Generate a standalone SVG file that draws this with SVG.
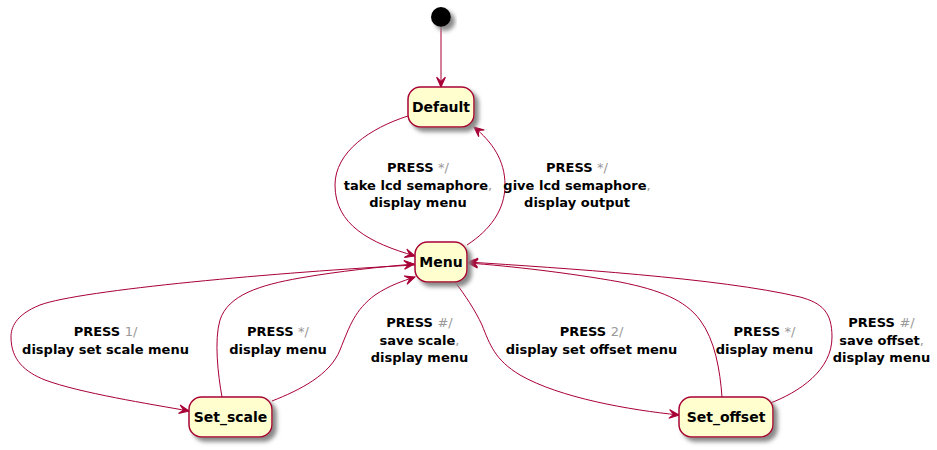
<svg xmlns="http://www.w3.org/2000/svg" width="937" height="450" viewBox="0 0 937 450">
<defs>
<filter id="sh" x="-20%" y="-20%" width="150%" height="160%">
<feGaussianBlur in="SourceAlpha" stdDeviation="2"/>
<feOffset dx="4" dy="4" result="b"/>
<feComponentTransfer><feFuncA type="linear" slope="0.45"/></feComponentTransfer>
<feFlood flood-color="#888"/>
<feComposite in2="b" operator="in"/>
<feMerge><feMergeNode/><feMergeNode in="SourceGraphic"/></feMerge>
</filter>
<marker id="ah" markerUnits="userSpaceOnUse" markerWidth="12" markerHeight="12" viewBox="-10 -5 11 10" refX="0" refY="0" orient="auto">
<path d="M0,0 L-9,-4 L-5,0 L-9,4 Z" fill="#A80036" stroke="#A80036" stroke-width="1" stroke-linejoin="miter"/>
</marker>
</defs>
<style>
.st{fill:#FEFECE;stroke:#A80036;stroke-width:1.5}
.nt{font-family:"DejaVu Sans",sans-serif;font-size:14px;font-weight:bold;fill:#000;text-anchor:middle}
.lb{font-family:"DejaVu Sans",sans-serif;font-size:13px;font-weight:bold;fill:#000;text-anchor:middle}
.g{fill:#999;font-weight:normal}
.e{fill:none;stroke:#A80036;stroke-width:1;marker-end:url(#ah)}
.n{fill:none;stroke:#A80036;stroke-width:1}
</style>
<rect width="937" height="450" fill="#fff"/>
<g id="connectors">
<path class="e" d="M441,27 L441,87"/>
<path class="e" d="M408,116 C370,128 335,152 335,185 C335,225 370,243 415,256"/>
<path class="e" d="M467,245 C490,230 505,210 505,185 C505,160 492,142 474,127"/>
<path class="e" d="M415,265 C280,272 80,290 40,305 C15,315 11,328 11,337 C11,360 25,372 45,380 C80,393 150,404 189,411"/>
<path class="e" d="M222,397 C218,375 214,340 220,320 C228,295 260,285 300,278 C340,271 380,267 414,264"/>
<path class="e" d="M272,401 C300,390 330,375 340,350 C350,325 355,310 375,295 C390,285 403,281 415,277"/>
<path class="e" d="M455,282 C465,295 475,310 482,325 C490,345 495,360 520,375 C560,398 630,410 679,415"/>
<path class="e" d="M722,397 C720,370 715,340 700,320 C685,300 660,290 620,282 C570,273 510,266 468,263"/>
<path class="e" d="M768,404 C800,392 832,370 832,337 C832,312 822,303 800,297 C720,278 560,268 468,262"/>
</g>
<g id="initial"><circle cx="441" cy="17" r="10" fill="#000" filter="url(#sh)"/></g>
<g id="Default"><rect class="st" x="408" y="87" width="66" height="40" rx="12.5" filter="url(#sh)"/><text class="nt" x="441" y="112">Default</text></g>
<g id="Menu"><rect class="st" x="415" y="242" width="52" height="40" rx="12.5" filter="url(#sh)"/><text class="nt" x="441" y="267">Menu</text></g>
<g id="Set_scale"><rect class="st" x="189" y="397" width="83" height="40" rx="12.5" filter="url(#sh)"/><text class="nt" x="230.5" y="422">Set_scale</text></g>
<g id="Set_offset"><rect class="st" x="679" y="397" width="94" height="40" rx="12.5" filter="url(#sh)"/><text class="nt" x="726" y="422">Set_offset</text></g>
<g id="labels">
<text class="lb" x="418" y="172">PRESS <tspan class="g">*/</tspan></text>
<text class="lb" x="418" y="189.5">take lcd semaphore<tspan class="g">,</tspan></text>
<text class="lb" x="418" y="207">display menu</text>
<text class="lb" x="577" y="172">PRESS <tspan class="g">*/</tspan></text>
<text class="lb" x="577" y="189.5">give lcd semaphore<tspan class="g">,</tspan></text>
<text class="lb" x="577" y="207">display output</text>
<text class="lb" x="105.5" y="336">PRESS <tspan class="g">1/</tspan></text>
<text class="lb" x="105.5" y="353.5">display set scale menu</text>
<text class="lb" x="278" y="336">PRESS <tspan class="g">*/</tspan></text>
<text class="lb" x="278" y="353.5">display menu</text>
<text class="lb" x="419.5" y="327">PRESS <tspan class="g">#/</tspan></text>
<text class="lb" x="419.5" y="344.5">save scale<tspan class="g">,</tspan></text>
<text class="lb" x="419.5" y="362">display menu</text>
<text class="lb" x="591.5" y="336">PRESS <tspan class="g">2/</tspan></text>
<text class="lb" x="591.5" y="353.5">display set offset menu</text>
<text class="lb" x="764.5" y="336">PRESS <tspan class="g">*/</tspan></text>
<text class="lb" x="764.5" y="353.5">display menu</text>
<text class="lb" x="881.5" y="327">PRESS <tspan class="g">#/</tspan></text>
<text class="lb" x="881.5" y="344.5">save offset<tspan class="g">,</tspan></text>
<text class="lb" x="881.5" y="362">display menu</text>
</g>
</svg>
